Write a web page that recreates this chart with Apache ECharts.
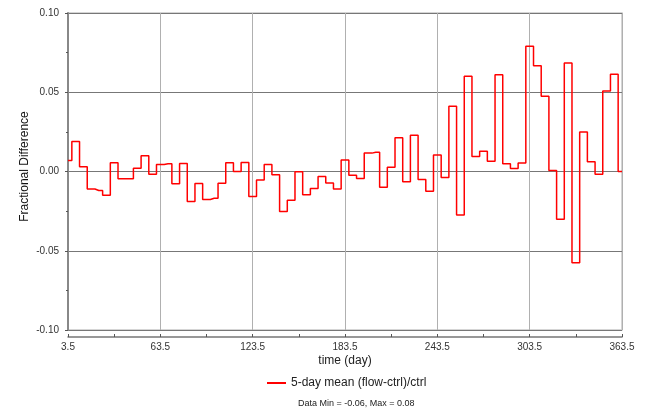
<!DOCTYPE html>
<html>
<head>
<meta charset="utf-8">
<script src="https://cdn.jsdelivr.net/npm/echarts@6/dist/echarts.min.js"></script>
<style>html,body{margin:0;padding:0;background:#fff}#c{width:658px;height:416px}</style>
</head>
<body>
<div id="c"></div>
<script>
var days = [3.5, 8.5, 13.5, 18.5, 23.5, 28.5, 33.5, 38.5, 43.5, 48.5,
  53.5, 58.5, 63.5, 68.5, 73.5, 78.5, 83.5, 88.5, 93.5, 98.5,
  103.5, 108.5, 113.5, 118.5, 123.5, 128.5, 133.5, 138.5, 143.5, 148.5,
  153.5, 158.5, 163.5, 168.5, 173.5, 178.5, 183.5, 188.5, 193.5, 198.5,
  203.5, 208.5, 213.5, 218.5, 223.5, 228.5, 233.5, 238.5, 243.5, 248.5,
  253.5, 258.5, 263.5, 268.5, 273.5, 278.5, 283.5, 288.5, 293.5, 298.5,
  303.5, 308.5, 313.5, 318.5, 323.5, 328.5, 333.5, 338.5, 343.5, 348.5,
  353.5, 358.5, 363.5];
var fracDiff = [0.007, 0.019, 0.003, -0.011, -0.012, -0.015, 0.0055, -0.0046, -0.0046, 0.002,
  0.0099, -0.0017, 0.0044, 0.0049, -0.0078, 0.005, -0.019, -0.0076, -0.0177, -0.0169,
  -0.0074, 0.0055, 0.0, 0.0056, -0.0157, -0.0053, 0.0044, -0.0021, -0.0253, -0.0181,
  -0.0002, -0.0146, -0.0108, -0.0032, -0.0072, -0.011, 0.0072, -0.0023, -0.0044, 0.0116,
  0.0122, -0.0099, 0.0027, 0.0213, -0.0065, 0.0228, -0.0051, -0.0124, 0.0104, -0.0038,
  0.0411, -0.0274, 0.0601, 0.0095, 0.0127, 0.0065, 0.061, 0.0049, 0.0019, 0.0053,
  0.0791, 0.0667, 0.0475, 0.0006, -0.0302, 0.0684, -0.0576, 0.0249, 0.0061, -0.0017,
  0.0508, 0.0614, 0.0];
var seriesName = '5-day mean (flow-ctrl)/ctrl';
var xStart = 3.5, xEnd = 363.5, xStep = 60;
var yMin = -0.10, yMax = 0.10, yStep = 0.05;
var statsText = 'Data Min = -0.06, Max = 0.08';

var data = days.map(function (d, i) { return [d, fracDiff[i]]; });
var FONT = '"Liberation Sans", Arial, sans-serif';

var chart = echarts.init(document.getElementById('c'), null, {renderer: 'canvas'});
chart.setOption({
  animation: false,
  backgroundColor: '#fff',
  grid: {left: 68, right: 36, top: 13, bottom: 86, show: true, borderColor: '#c8c8c8', borderWidth: 1.5, backgroundColor: 'transparent'},
  xAxis: [{
    type: 'value', min: xStart, max: xEnd, show: false
  }, {
    type: 'value', min: 0, max: xEnd - xStart, interval: xStep, position: 'bottom', offset: 7,
    name: 'time (day)', nameLocation: 'middle', nameGap: 18, nameMoveOverlap: false,
    nameTextStyle: {fontFamily: FONT, fontSize: 12, color: '#222'},
    axisLine: {show: true, lineStyle: {color: '#777', width: 1.5}},
    axisTick: {show: true, inside: true, length: 3, lineStyle: {color: '#555'}},
    minorTick: {show: true, splitNumber: 2, length: 3, lineStyle: {color: '#555'}},
    splitLine: {show: true, lineStyle: {color: '#b0b0b0', width: 1}},
    axisLabel: {fontFamily: FONT, fontSize: 10, color: '#333', margin: 5, showMinLabel: true, showMaxLabel: true,
      formatter: function (v) { return (v + xStart).toFixed(1); }}
  }],
  yAxis: {
    type: 'value', min: yMin, max: yMax, interval: yStep, offset: 6,
    name: 'Fractional Difference', nameLocation: 'middle', nameGap: 31, nameMoveOverlap: false,
    nameTextStyle: {fontFamily: FONT, fontSize: 12, color: '#111', padding: [0, 0, 0, 10]},
    axisLine: {show: true, lineStyle: {color: '#888', width: 2}},
    axisTick: {show: true, length: 3, lineStyle: {color: '#555'}},
    minorTick: {show: true, splitNumber: 2, length: 2, lineStyle: {color: '#555'}},
    splitLine: {show: true, lineStyle: {color: '#777', width: 1}},
    axisLabel: {fontFamily: FONT, fontSize: 10, color: '#333', margin: 3,
      formatter: function (v) { return v.toFixed(2); }}
  },
  legend: {
    left: 262, top: 372, icon: 'rect', itemWidth: 19, itemHeight: 2,
    textStyle: {fontFamily: FONT, fontSize: 12, color: '#222'},
    data: [seriesName]
  },
  graphic: [{
    type: 'text', left: 298, top: 399,
    style: {text: statsText, font: '9px ' + FONT, fill: '#222'}
  }],
  series: [{
    name: seriesName, type: 'line', xAxisIndex: 0, step: 'middle',
    showSymbol: false, symbol: 'none',
    lineStyle: {color: '#ff0000', width: 1.5},
    itemStyle: {color: '#ff0000'},
    data: data
  }]
});
</script>
</body>
</html>
